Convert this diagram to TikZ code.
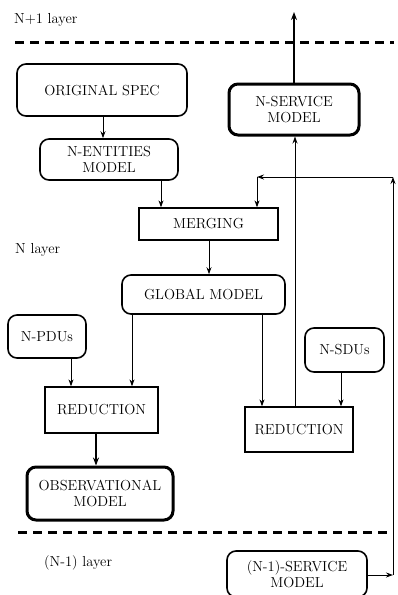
\documentclass[tikz,border=0pt]{standalone}
\usetikzlibrary{arrows.meta}
\begin{document}
\begin{tikzpicture}[x=1pt,y=-1pt,
  lbl/.style={font=\fontsize{14.5}{16.5}\selectfont, inner sep=0pt, align=center},
  rbox/.style={lbl, draw, rounded corners=9pt, line width=1.6pt},
  tbox/.style={lbl, draw, rounded corners=9pt, line width=3pt},
  sbox/.style={lbl, draw, line width=1.3pt},
  arr/.style={line width=1pt, -{Stealth[length=7pt,width=5pt]}},
  tarr/.style={line width=1.8pt, -{Stealth[length=8pt,width=6pt]}},
  layerline/.style={line width=3pt, dash pattern=on 9pt off 6pt},
  layer/.style={font=\fontsize{14.5}{16.5}\selectfont, anchor=west, inner sep=0pt}]
\useasboundingbox (0,0) rectangle (398,595);
% layer labels
\node[layer] (l1) at (14,20) {N+1 layer};
\node[layer] (l2) at (15,250) {N layer};
\node[layer] (l3) at (44,563) {(N-1) layer};
% layer lines
\coordinate (d1a) at (15,42); \coordinate (d1b) at (394,42);
\coordinate (d2a) at (18,532); \coordinate (d2b) at (394,532);
\draw[layerline] (d1a) -- (d1b);
\draw[layerline] (d2a) -- (d2b);
% nodes
\node[rbox, minimum width=170pt, minimum height=52pt] (orig) at (102,90) {ORIGINAL SPEC};
\node[tbox, minimum width=130pt, minimum height=51pt] (nserv) at (294,109.5) {N-SERVICE\\MODEL};
\node[rbox, minimum width=138pt, minimum height=41pt] (nent) at (109,159.5) {N-ENTITIES\\MODEL};
\node[sbox, minimum width=139pt, minimum height=32pt] (merge) at (208.5,224) {MERGING};
\node[rbox, minimum width=163pt, minimum height=39pt] (global) at (203.5,294.5) {GLOBAL MODEL};
\node[rbox, minimum width=78pt, minimum height=43pt] (npdu) at (47,336.5) {N-PDUs};
\node[rbox, minimum width=79pt, minimum height=44pt] (nsdu) at (344.5,350) {N-SDUs};
\node[sbox, minimum width=113pt, minimum height=46pt] (redL) at (101.5,410) {REDUCTION};
\node[sbox, minimum width=108pt, minimum height=45pt] (redR) at (299,429.5) {REDUCTION};
\node[tbox, minimum width=146pt, minimum height=53pt] (obs) at (100,493.5) {OBSERVATIONAL\\MODEL};
\node[rbox, minimum width=140pt, minimum height=46pt] (n1serv) at (297,574) {(N-1)-SERVICE\\MODEL};
% connectors
\draw[arr] (orig.south -| 103,0) -- (nent.north -| 103,0);
\draw[arr] (nent.south -| 161,0) -- (merge.north -| 161,0);
\draw[arr] (merge.south -| 209,0) -- (global.north -| 209,0);
\draw[arr] (global.south -| 132,0) -- (redL.north -| 132,0);
\draw[arr] (npdu.south -| 71,0) -- (redL.north -| 71,0);
\draw[tarr] (redL.south -| 96,0) -- (obs.north -| 96,0);
\draw[arr] (global.south -| 262,0) -- (redR.north -| 262,0);
\draw[arr] (nsdu.south -| 341,0) -- (redR.north -| 341,0);
\draw[arr] (redR.north -| 295,0) -- (nserv.south -| 295,0);
\coordinate (top) at (294,12);
\draw[tarr] (nserv.north -| 294,0) -- (top);
% feedback loop
\coordinate (c1) at (393,575);
\coordinate (c2) at (393,177);
\coordinate (c3) at (257,177);
\draw[arr] (n1serv.east |- c1) -- (c1);
\draw[arr] (c1) -- (c2);
\draw[arr] (c2) -- (c3);
\draw[arr] (c3) -- (merge.north -| c3);
\end{tikzpicture}
\end{document}
